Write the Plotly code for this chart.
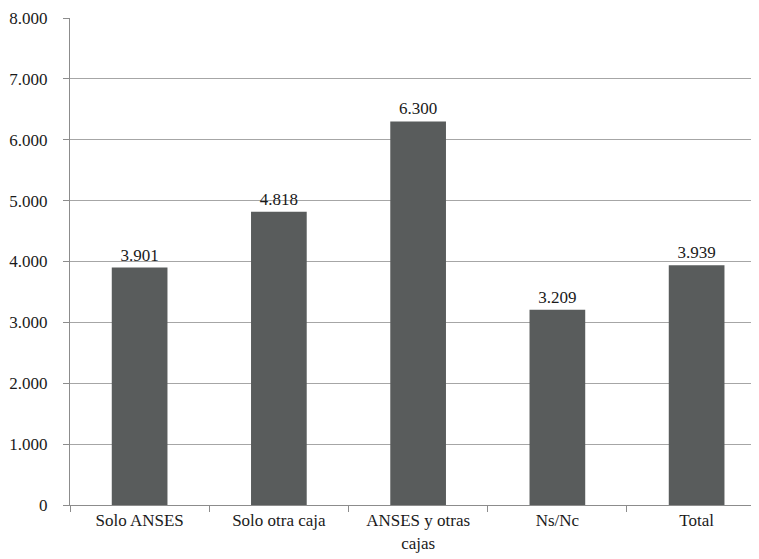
import plotly.graph_objects as go

# --- datos ---
categorias = ["Solo ANSES", "Solo otra caja", "ANSES y otras<br>cajas", "Ns/Nc", "Total"]
valores = [3901, 4818, 6300, 3209, 3939]
ticks_y = [0, 1000, 2000, 3000, 4000, 5000, 6000, 7000, 8000]

BARRA = "#595C5C"
REJILLA = "#A6A6A6"
EJE = "#8C8C8C"
TEXTO = "#1A1A1A"
FUENTE = "Liberation Serif"

fig = go.Figure()
fig.add_trace(go.Bar(
    x=categorias, y=valores,
    marker=dict(color=BARRA, line=dict(width=0)),
    width=0.4,
    texttemplate="%{y:,}", textposition="outside",
    textfont=dict(family=FUENTE, size=17, color=TEXTO),
    cliponaxis=False, showlegend=False))

# la página deja ~8px de margen; se compensa aquí
fig.update_layout(
    width=751, height=551,
    margin=dict(l=62, r=0, t=10, b=54),
    paper_bgcolor="white", plot_bgcolor="white",
    separators=",.",
    font=dict(family=FUENTE, size=17, color=TEXTO),
    xaxis=dict(
        range=[-0.5, 4.448], tickson="boundaries", ticks="outside",
        ticklen=6, tickcolor=EJE, showline=True, linecolor=EJE, linewidth=1,
        showgrid=False, tickfont=dict(family=FUENTE, size=17, color=TEXTO)),
    yaxis=dict(
        range=[0, 8000], tickvals=ticks_y, tickformat=",",
        ticks="outside", ticklen=6, tickcolor=EJE,
        showline=True, linecolor=EJE, linewidth=1,
        gridcolor=REJILLA, gridwidth=1, zeroline=False,
        ticklabelstandoff=12,
        tickfont=dict(family=FUENTE, size=17, color=TEXTO)),
)

fig.write_html("out.html")
